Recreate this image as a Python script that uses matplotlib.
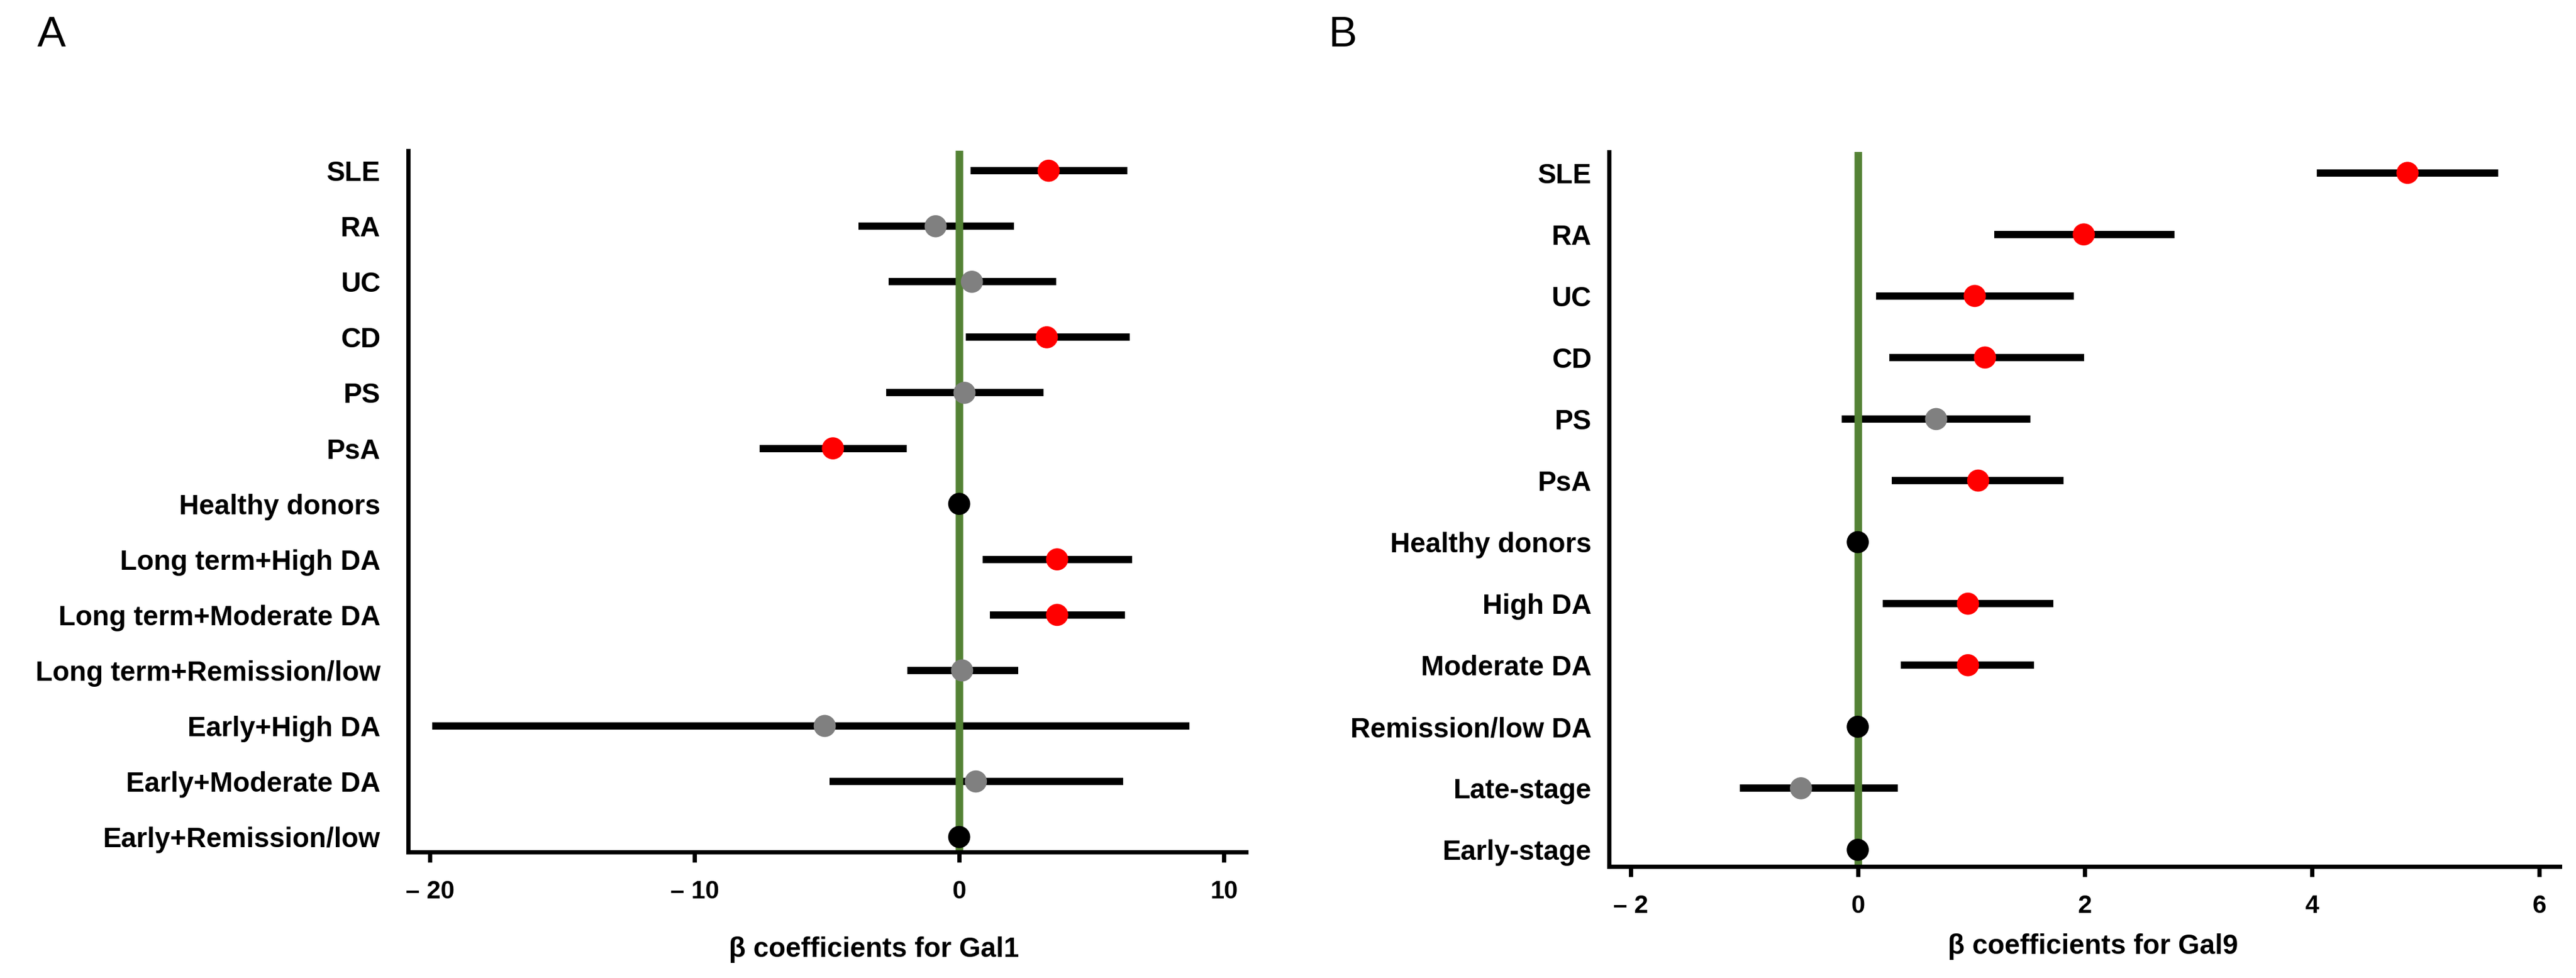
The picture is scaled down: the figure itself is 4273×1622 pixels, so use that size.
import matplotlib
matplotlib.use('Agg')
import matplotlib.pyplot as plt

plt.rcParams['font.family'] = ['Liberation Sans', 'DejaVu Sans']

RED = '#FF0000'
GREY = '#808080'
BLACK = '#000000'
GREEN = '#548235'

# Panel A: Gal1
gal1_labels = ['SLE', 'RA', 'UC', 'CD', 'PS', 'PsA', 'Healthy donors',
               'Long term+High DA', 'Long term+Moderate DA', 'Long term+Remission/low',
               'Early+High DA', 'Early+Moderate DA', 'Early+Remission/low']
gal1_beta = [3.38, -0.89, 0.48, 3.31, 0.20, -4.77, 0.0, 3.70, 3.70, 0.11, -5.08, 0.63, 0.0]
gal1_lo = [0.44, -3.81, -2.66, 0.24, -2.75, -7.54, 0.0, 0.89, 1.15, -1.96, -19.91, -4.90, 0.0]
gal1_hi = [6.36, 2.07, 3.66, 6.45, 3.18, -1.98, 0.0, 6.54, 6.27, 2.22, 8.71, 6.19, 0.0]
gal1_colors = [RED, GREY, GREY, RED, GREY, RED, BLACK, RED, RED, GREY, GREY, GREY, BLACK]
gal1_ticks = [-20, -10, 0, 10]
gal1_ticklabels = ['\u2013 20', '\u2013 10', '0', '10']

# Panel B: Gal9
gal9_labels = ['SLE', 'RA', 'UC', 'CD', 'PS', 'PsA', 'Healthy donors',
               'High DA', 'Moderate DA', 'Remission/low DA', 'Late-stage', 'Early-stage']
gal9_beta = [4.84, 1.99, 1.03, 1.12, 0.69, 1.06, 0.0, 0.97, 0.97, 0.0, -0.50, 0.0]
gal9_lo = [4.04, 1.20, 0.16, 0.28, -0.14, 0.30, 0.0, 0.22, 0.38, 0.0, -1.04, 0.0]
gal9_hi = [5.64, 2.79, 1.90, 1.99, 1.52, 1.81, 0.0, 1.72, 1.55, 0.0, 0.35, 0.0]
gal9_colors = [RED, RED, RED, RED, GREY, RED, BLACK, RED, RED, BLACK, GREY, BLACK]
gal9_ticks = [-2, 0, 2, 4, 6]
gal9_ticklabels = ['\u2013 2', '0', '2', '4', '6']

W, H = 4273, 1622
fig = plt.figure(figsize=(W / 300, H / 300), dpi=300)


def forest(ax, labels, beta, lo, hi, cols, xlim, ylim, ticks, ticklabels, xlabel, label_xy, ypad):
    n = len(labels)
    y = list(range(n - 1, -1, -1))
    ax.hlines(y, lo, hi, color='black', lw=2.9, zorder=1, capstyle='butt')
    ax.axvline(0, color=GREEN, lw=3.0, zorder=2)
    ax.scatter(beta, y, s=8.8 ** 2, c=cols, edgecolors='none', zorder=3, clip_on=False)
    ax.set_xlim(*xlim)
    ax.set_ylim(*ylim)
    ax.set_yticks(y)
    ax.set_yticklabels(labels, fontsize=11, fontweight='bold')
    ax.set_xticks(ticks)
    ax.set_xticklabels(ticklabels, fontsize=10, fontweight='bold')
    ax.tick_params(axis='y', length=0, pad=ypad)
    ax.tick_params(axis='x', length=4, width=1.7, pad=7)
    for s in ['top', 'right']:
        ax.spines[s].set_visible(False)
    for s in ['left', 'bottom']:
        ax.spines[s].set_linewidth(1.7)
    ax.set_xlabel(xlabel, fontsize=11, fontweight='bold')
    ax.xaxis.set_label_coords(*label_xy)


axA = fig.add_axes([677 / W, 1 - 1413 / H, (2067 - 677) / W, (1413 - 250) / H])
forest(axA, gal1_labels, gal1_beta, gal1_lo, gal1_hi, gal1_colors,
       (-20.82, 10.84), (-0.27, 12.36), gal1_ticks, gal1_ticklabels,
       '\u03b2 coefficients for Gal1', (0.556, -0.12), 11)

axB = fig.add_axes([2669 / W, 1 - 1437 / H, (4246 - 2669) / W, (1437 - 252) / H])
forest(axB, gal9_labels, gal9_beta, gal9_lo, gal9_hi, gal9_colors,
       (-2.19, 6.18), (-0.27, 11.34), gal9_ticks, gal9_ticklabels,
       '\u03b2 coefficients for Gal9', (0.509, -0.094), 7)

fig.text(62 / W, 1 - 77 / H, 'A', fontsize=17, va='baseline', ha='left')
fig.text(2203 / W, 1 - 77 / H, 'B', fontsize=17, va='baseline', ha='left')

fig.savefig('out.png', dpi=300)
